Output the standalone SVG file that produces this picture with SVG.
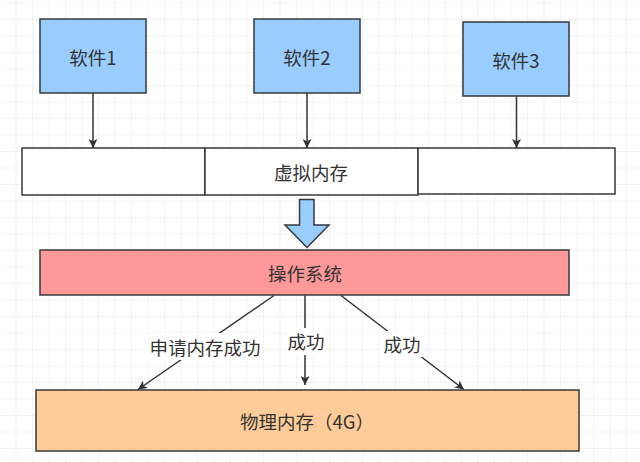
<svg xmlns="http://www.w3.org/2000/svg" width="640" height="462" viewBox="0 0 640 462">
<defs>
<pattern id="grid" x="0" y="3.5" width="16.5" height="16.5" patternUnits="userSpaceOnUse">
<path d="M16.5 0 V16.5 M0 16.5 H16.5" fill="none" stroke="#e6e6e6" stroke-width="1"/>
</pattern>
<marker id="arr" viewBox="0 0 10 10" refX="10" refY="5" markerWidth="9" markerHeight="9" markerUnits="userSpaceOnUse" orient="auto">
<path d="M0,0 L10,5 L0,10 L2.5,5 z" fill="#333"/>
</marker>
<style>
.box{stroke:#36393d;stroke-width:1.5}
.sw{fill:#99ccff}
.vm{fill:#ffffff}
.t{font-family:"Noto Sans CJK SC","Liberation Sans",sans-serif;font-size:18.5px;fill:#333;text-anchor:middle;dominant-baseline:central}
.ln{stroke:#333;stroke-width:1.5;fill:none}
.lbg{fill:#ffffff}
</style>
</defs>
<rect width="640" height="462" fill="#ffffff"/>
<rect width="640" height="462" fill="url(#grid)"/>

<g id="connectors">
<line class="ln" x1="93" y1="93" x2="93" y2="148" marker-end="url(#arr)"/>
<line class="ln" x1="307" y1="93" x2="307" y2="148" marker-end="url(#arr)"/>
<line class="ln" x1="516.5" y1="96" x2="516.5" y2="148" marker-end="url(#arr)"/>
<line class="ln" x1="274" y1="295.5" x2="138" y2="389.5" marker-end="url(#arr)"/>
<line class="ln" x1="305" y1="295.5" x2="305" y2="385" marker-end="url(#arr)"/>
<line class="ln" x1="341" y1="295.5" x2="464" y2="389.5" marker-end="url(#arr)"/>
<g id="label-apply">
<rect class="lbg" x="147" y="333" width="116" height="27"/>
<text class="t" x="205" y="347">申请内存成功</text>
</g>
<g id="label-ok1">
<rect class="lbg" x="286" y="328" width="40" height="27"/>
<text class="t" x="306" y="341">成功</text>
</g>
<g id="label-ok2">
<rect class="lbg" x="380" y="331" width="44" height="26"/>
<text class="t" x="402" y="344">成功</text>
</g>
</g>

<g id="software1">
<rect class="box sw" x="40" y="19" width="106" height="74"/>
<text class="t" x="93" y="57">软件1</text>
</g>
<g id="software2">
<rect class="box sw" x="254" y="19" width="106" height="74"/>
<text class="t" x="307" y="57">软件2</text>
</g>
<g id="software3">
<rect class="box sw" x="463" y="22" width="106" height="74"/>
<text class="t" x="516" y="60">软件3</text>
</g>

<g id="vm-left">
<rect class="box vm" x="22" y="148" width="183" height="47"/>
</g>
<g id="vm-middle">
<rect class="box vm" x="205" y="148" width="213" height="47"/>
<text class="t" x="311" y="172">虚拟内存</text>
</g>
<g id="vm-right">
<rect class="box vm" x="418" y="148" width="197" height="46"/>
</g>

<g id="big-arrow">
<path d="M299.5,199.5 H314 V225 H329 L307,247.5 L285,225 H299.5 Z" fill="#99ccff" stroke="#36393d" stroke-width="1.5" stroke-linejoin="miter"/>
</g>

<g id="os">
<rect class="box" x="40" y="250" width="529" height="45" fill="#ff9999"/>
<text class="t" x="305" y="273">操作系统</text>
</g>

<g id="physical">
<rect class="box" x="36" y="390" width="543" height="61" fill="#ffcc99"/>
<text class="t" x="307" y="421">物理内存（4G）</text>
</g>
</svg>
